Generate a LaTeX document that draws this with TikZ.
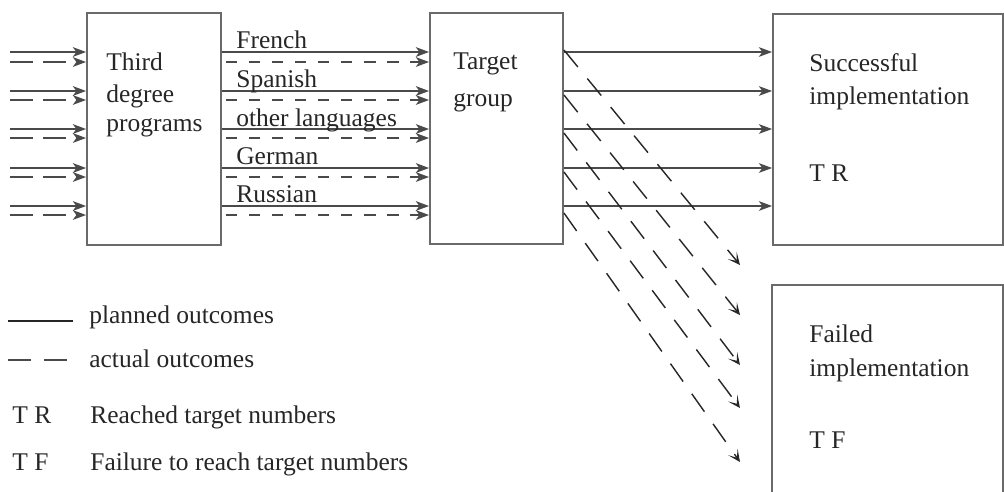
\documentclass[tikz,border=0pt]{standalone}
\usepackage{fontspec}
\setmainfont{Liberation Serif}
\usetikzlibrary{arrows.meta}
\definecolor{boxgray}{HTML}{6A6A6A}
\definecolor{linegray}{HTML}{4A4A4A}
\definecolor{inkgray}{HTML}{262626}
\tikzset{
    lbl/.style={anchor=base west, inner sep=0pt, text=inkgray, font=\fontsize{14.5}{17}\selectfont},
    plan/.style={draw=linegray, line width=0.85pt, -{Stealth[length=7.5pt,width=5.5pt,inset=2pt]}},
    actual/.style={draw=linegray, line width=0.85pt, dash pattern=on #1, -{Stealth[length=7.5pt,width=5.5pt,inset=2pt]}},
    actual/.default={6.3pt off 6.8pt}
}

\begin{document}
\begin{tikzpicture}[x=0.02cm, y=-0.02cm,
    stage/.style={draw=boxgray, line width=1.1pt, rectangle, inner sep=0pt},
    miss/.style={draw=black!85, line width=0.8pt, dash pattern=on 12.5pt off 8.5pt, -{Stealth[length=7pt,width=6.5pt,inset=4pt]}}]

\useasboundingbox (0,0) rectangle (1004,491);

\node[stage, minimum width=2.68cm, minimum height=4.64cm] (prog) at (154,129) {};
\node[stage, minimum width=2.66cm, minimum height=4.62cm] (tgt) at (496.5,128.5) {};
\node[stage, minimum width=4.6cm, minimum height=4.62cm] (succ) at (888,129.5) {};
% runs off the bottom of the page
\node[stage, minimum width=4.62cm, minimum height=4.6cm] (fail) at (887.5,400) {};

\foreach \ya/\yb [count=\i] in {52/62,91/100,129/138,168/177,206/215} {
    \coordinate (r\i) at (0,\ya);
    \coordinate (q\i) at (0,\yb);
    \coordinate (ins\i) at (10,\ya);
    \coordinate (ina\i) at (10,\yb);
}

\foreach \i in {1,...,5} {
    \draw[plan] (ins\i) -- (prog.west |- ins\i);
    \draw[actual={13pt off 5.7pt}] (ina\i) -- (prog.west |- ina\i);
    \draw[plan] (prog.east |- r\i) -- (tgt.west |- r\i);
    \draw[actual, shorten <=2.5pt] (prog.east |- q\i) -- (tgt.west |- q\i);
    \draw[plan] (tgt.east |- r\i) -- (succ.west |- r\i);
}

\foreach \ys/\ye [count=\i] in {50/265,95/315,133/365,172/408,213/462} {
    \coordinate (miss\i) at (740,\ye);
    \draw[miss] (tgt.east |- 0,\ys) -- (miss\i);
}

\foreach \lang/\y [count=\i] in {French/48,Spanish/87,other languages/126,German/164,Russian/202}
    \node[lbl] (lang\i) at (236,\y) {\lang};

\node[lbl] (prog1) at (106,70) {Third};
\node[lbl] (prog2) at (106,102) {degree};
\node[lbl] (prog3) at (106,131) {programs};
\node[lbl] (tgt1) at (453,69) {Target};
\node[lbl] (tgt2) at (453,106) {group};
\node[lbl] (succ1) at (809,71) {Successful};
\node[lbl] (succ2) at (809,104) {implementation};
\node[lbl] (succ3) at (809,181) {T R};
\node[lbl] (fail1) at (809,342) {Failed};
\node[lbl] (fail2) at (809,376) {implementation};
\node[lbl] (fail3) at (809,448) {T F};

% key
\draw[draw=inkgray, line width=0.8pt] (8,321) -- (73,321);
\draw[draw=linegray, line width=0.8pt, dash pattern=on 13pt off 7.4pt] (8,360) -- (68,360);
\node[lbl] (key1) at (89,323) {planned outcomes};
\node[lbl] (key2) at (89,367) {actual outcomes};
\node[lbl] (key3) at (12,423) {T R};
\node[lbl] (key4) at (90,423) {Reached target numbers};
\node[lbl] (key5) at (12,470) {T F};
\node[lbl] (key6) at (90,470) {Failure to reach target numbers};
\end{tikzpicture}
\end{document}
